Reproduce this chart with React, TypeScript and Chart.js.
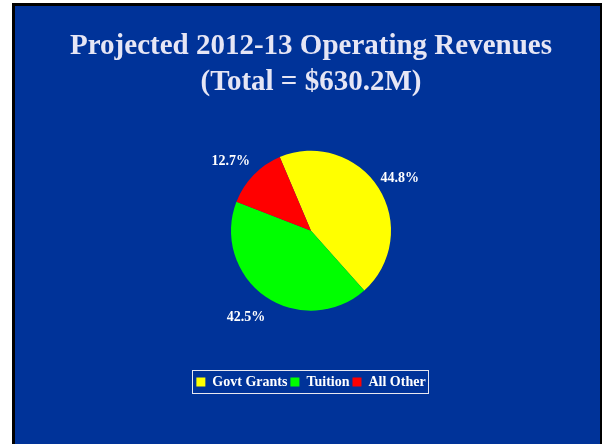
import React, { useEffect, useRef } from "react";
import { Chart, registerables } from "chart.js";

Chart.register(...registerables);

const titleLines = ["Projected 2012-13 Operating Revenues", "(Total = $630.2M)"];
const categories = ["Govt Grants", "Tuition", "All Other"];
const shares = [44.8, 42.5, 12.7];
const sliceColors = ["#FFFF00", "#00FF00", "#FF0000"];

const FONT = "'Liberation Serif', 'Times New Roman', serif";

const pctLabels = {
  id: "pctLabels",
  afterDatasetsDraw(chart: any) {
    const ctx = chart.ctx;
    const meta = chart.getDatasetMeta(0);
    ctx.save();
    ctx.font = `bold 14px ${FONT}`;
    ctx.fillStyle = "#FFFFFF";
    ctx.textAlign = "center";
    ctx.textBaseline = "middle";
    meta.data.forEach((arc: any, i: number) => {
      const p = arc.getProps(["x", "y", "startAngle", "endAngle", "outerRadius"], true);
      const mid = (p.startAngle + p.endAngle) / 2;
      const d = p.outerRadius + 25;
      let dx = Math.cos(mid) * d;
      if (dx < 0) dx -= 5;
      const dy = Math.sin(mid) * d * 0.98 + 2.5;
      const v = chart.data.datasets[0].data[i];
      ctx.fillText(v.toFixed(1) + "%", p.x + dx, p.y + dy);
    });
    ctx.restore();
  },
};

const legendBorder = {
  id: "legendBorder",
  afterDraw(chart: any) {
    const lg = chart.legend;
    if (!lg || !lg.legendHitBoxes || !lg.legendHitBoxes.length) return;
    const boxes = lg.legendHitBoxes;
    let l = Infinity, r = -Infinity, t = Infinity, b = -Infinity;
    boxes.forEach((h: any) => {
      l = Math.min(l, h.left);
      r = Math.max(r, h.left + h.width);
      t = Math.min(t, h.top);
      b = Math.max(b, h.top + h.height);
    });
    const cy = (t + b) / 2;
    const ctx = chart.ctx;
    ctx.save();
    ctx.strokeStyle = "#E8E8F0";
    ctx.lineWidth = 1;
    ctx.strokeRect(Math.round(l - 4) + 0.5, Math.round(cy - 12) + 0.5, Math.round(r - l + 7), 23);
    ctx.restore();
  },
};

export default function App() {
  const ref = useRef<HTMLCanvasElement>(null);
  useEffect(() => {
    if (!ref.current) return;
    const chart = new Chart(ref.current, {
      type: "pie",
      data: {
        labels: categories,
        datasets: [
          {
            data: shares,
            backgroundColor: sliceColors,
            borderWidth: 0,
            radius: 80,
          },
        ],
      },
      options: {
        responsive: false,
        animation: false,
        devicePixelRatio: 1,
        rotation: -23,
        layout: { padding: { left: 7, right: 0, top: 0, bottom: 45 } },
        plugins: {
          title: {
            display: true,
            text: titleLines,
            color: "#E6E6F5",
            font: { family: FONT, size: 29, weight: "bold", lineHeight: 1.25 },
            padding: { top: 22, bottom: -11 },
          },
          legend: {
            display: true,
            position: "bottom",
            labels: {
              boxWidth: 9,
              boxHeight: 9,
              padding: 3,
              color: "#FFFFFF",
              font: { family: FONT, size: 14, weight: "bold" },
            },
          },
          tooltip: { enabled: false },
        },
      },
      plugins: [pctLabels, legendBorder],
    });
    return () => chart.destroy();
  }, []);

  return (
    <div style={{ position: "fixed", left: 0, top: 0, width: 602, height: 444, background: "#FFFFFF", overflow: "hidden" }}>
      <div
        style={{
          position: "absolute",
          left: 12,
          top: 3,
          width: 590,
          height: 441,
          boxSizing: "border-box",
          borderLeft: "3px solid #000",
          borderTop: "3px solid #000",
          borderRight: "2px solid #000",
          background: "#003399",
        }}
      >
        <canvas ref={ref} width={585} height={438} style={{ display: "block", width: 585, height: 438 }} />
      </div>
    </div>
  );
}
